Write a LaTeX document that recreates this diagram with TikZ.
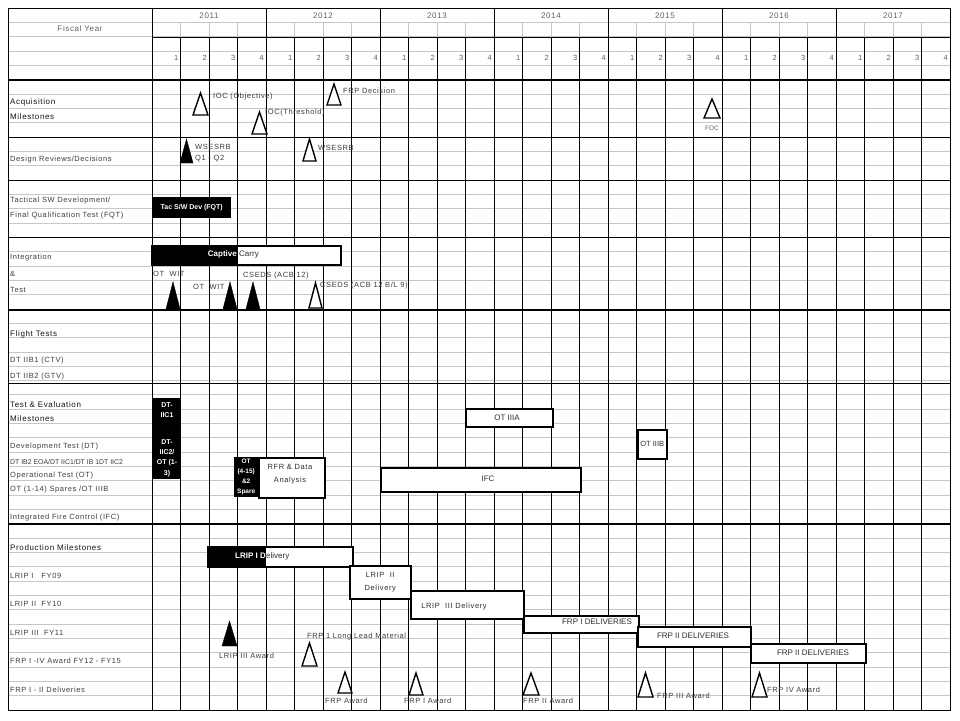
\documentclass[tikz,border=0pt]{standalone}
\usepackage{fontspec}
\setmainfont{Liberation Sans}
\newfontfamily\cellfont{Liberation Sans}[LetterSpace=8]
\newcommand\mstone[5]{\draw[#1] (#2,#5) -- ({(#2+#3)/2},#4) -- (#3,#5) -- cycle;}
\begin{document}
\begin{tikzpicture}[
   x=1pt, y=-1pt,
   gridline/.style={black!22, line width=0.7pt},
   rule/.style={black, line width=0.9pt},
   heavy/.style={black, line width=2pt},
   txt/.style={font=\cellfont\fontsize{7.5}{8.5}\selectfont, text=black!76, inner sep=0pt, anchor=west},
   hdr/.style={txt, anchor=center, font=\cellfont\fontsize{8}{9}\selectfont, text=black!62},
   key/.style={txt, font=\cellfont\fontsize{8}{9}\selectfont, text=black!92},
   bar/.style={draw, line width=1.5pt, fill=white, anchor=north west, inner sep=0pt},
   blackbar/.style={fill=black, anchor=north west, inner sep=0pt},
   bartxt/.style={font=\fontsize{8}{9}\selectfont, text=black!82, inner sep=0pt},
   whitetxt/.style={font=\bfseries\fontsize{7}{10}\selectfont, text=white, inner sep=0pt, align=center},
   open/.style={draw, line width=1.4pt, fill=white},
   solid/.style={fill=black}
]
\useasboundingbox[fill=white] (0,0) rectangle (960,720);

% Grid
\foreach \k in {1,...,48}
   \draw[gridline] (8,{8+14.327*\k}) -- (950,{8+14.327*\k});
\foreach \q in {1,...,27}
   \draw[gridline] ({152+28.5*\q},22.3) -- ({152+28.5*\q},37);
\draw[rule] (8,8) rectangle (950,710);
\draw[rule] (152,8) -- (152,710);
\foreach \yr in {1,...,6}
   \draw[rule] ({152+114*\yr},8) -- ({152+114*\yr},37);
\foreach \q in {1,...,27}
   \draw[rule] ({152+28.5*\q},37) -- ({152+28.5*\q},710);
\draw[rule] (152,37) -- (950,37);
\foreach \yy in {137,180,237,383}
   \draw[rule] (8,\yy) -- (950,\yy);
\foreach \yy in {80,310,524}
   \draw[heavy] (8,\yy) -- (950,\yy);

% Header
\node[hdr] (fy) at (80,29) {Fiscal Year};
\foreach \yr [count=\i from 0] in {2011,...,2017}
   \node[hdr] (y\yr) at ({209+114*\i},16) {\yr};
\foreach \i in {0,...,27}{
   \pgfmathtruncatemacro\qn{mod(\i,4)+1}
   \node[txt, anchor=east, text=black!62] (q\i) at ({152+28.5*(\i+1)-2},58) {\qn};
}

% Row labels
\node[key] (acq) at (10,102) {Acquisition};
\node[key] (acqm) at (10,117) {Milestones};
\node[txt] (des) at (10,160) {Design Reviews/Decisions};
\node[txt] (tac) at (10,201) {Tactical SW Development/};
\node[txt] (fqt) at (10,216) {Final Qualification Test (FQT)};
\node[txt] (int) at (10,258) {Integration};
\node[txt] (amp) at (10,274) {\&};
\node[txt] (tst) at (10,290) {Test};
\node[key] (flt) at (10,334) {Flight Tests};
\node[txt] (ctv) at (10,361) {DT IIB1 (CTV)};
\node[txt] (gtv) at (10,377) {DT IIB2 (GTV)};
\node[key] (tne) at (10,405) {Test \& Evaluation};
\node[key] (tnem) at (10,419) {Milestones};
\node[txt] (dev) at (10,447) {Development Test (DT)};
\node[txt, font=\fontsize{6.9}{7.5}\selectfont] (eoa) at (10,462) {DT IB2 EOA/DT IIC1/DT IB 1DT IIC2};
\node[txt] (opt) at (10,476) {Operational Test (OT)};
\node[txt] (spr) at (10,490) {OT (1-14) Spares /OT IIIB};
\node[txt] (ifcl) at (10,518) {Integrated Fire Control (IFC)};
\node[key] (prod) at (10,548) {Production Milestones};
\node[txt] (l1) at (10,576) {LRIP I \ \ FY09};
\node[txt] (l2) at (10,604) {LRIP II \ FY10};
\node[txt] (l3) at (10,633) {LRIP III \ FY11};
\node[txt] (frpa) at (10,661) {FRP I -IV Award FY12 - FY15};
\node[txt] (frpd) at (10,690) {FRP I - II Deliveries};

% Acquisition milestones
\mstone{open}{193}{208}{93}{115}
\node[txt] (iocobj) at (213,97) {IOC (Objective)};
\mstone{open}{252}{267}{112}{134}
\node[txt] (ioctr) at (265,113) {IOC(Threshold)};
\mstone{open}{327}{341}{84}{105}
\node[txt] (frpdec) at (343,91) {FRP Decision};
\mstone{open}{704}{720}{99}{118}
\node[hdr, font=\fontsize{6.5}{7}\selectfont] (foc) at (712,128) {FOC};

% Design reviews
\mstone{solid}{180}{193}{139}{163}
\node[txt] (srb1) at (195,147) {WSESRB};
\node[txt] (srbq) at (195,159) {Q1 - Q2};
\mstone{open}{303}{316}{139}{161}
\node[txt] (srb2) at (318,148) {WSESRB};

% Tactical SW
\node[blackbar, minimum width=79, minimum height=21] (tacbar) at (152,197) {};
\node[whitetxt] (tactxt) at (tacbar.center) {Tac S/W Dev (FQT)};

% Integration & test
\node[bar, minimum width=189, minimum height=19] (cc) at (151,245) {};
\fill (151,245) rectangle (238,264);
\node[whitetxt, font=\bfseries\fontsize{8}{9}\selectfont, anchor=east] (cap) at (237,254.5) {Captive};
\node[bartxt, anchor=west] (carry) at (239,254.5) {Carry};
\mstone{solid}{166}{180}{282}{309}
\node[txt] (wit1) at (153,274) {OT \ WIT};
\mstone{solid}{223}{237}{282}{309}
\node[txt] (wit2) at (193,287) {OT \ WIT};
\mstone{solid}{246}{260}{282}{309}
\node[txt] (cseds1) at (243,276) {CSEDS (ACB 12)};
\mstone{open}{309}{322}{283}{308}
\node[txt] (cseds2) at (320,286) {CSEDS (ACB 12 B/L 9)};

% Test & evaluation
\node[blackbar, minimum width=28, minimum height=81] (dtbar) at (153,398) {};
\node[whitetxt] (dt1) at (167,410) {DT-\\IIC1};
\node[whitetxt, font=\bfseries\fontsize{7}{10.3}\selectfont] (dt2) at (167,458) {DT-\\IIC2/\\OT (1-\\3)};
\node[blackbar, minimum width=24, minimum height=40] (otbar) at (234,457) {};
\node[whitetxt, font=\bfseries\fontsize{6.5}{10}\selectfont] (ot415) at (otbar.center) {OT\\(4-15)\\\&2\\Spare};
\node[bar, minimum width=66, minimum height=40] (rfr) at (258,457) {};
\node[bartxt, align=center, font=\cellfont\fontsize{7.5}{13}\selectfont] (rfrtxt) at (290,474) {RFR \& Data\\Analysis};
\node[bar, minimum width=87, minimum height=18] (otIIIA) at (465,408) {};
\node[bartxt] (otIIIAtxt) at (507,418) {OT IIIA};
\node[bar, minimum width=29, minimum height=29] (otIIIB) at (637,429) {};
\node[bartxt, font=\fontsize{7.5}{8}\selectfont] (otIIIBtxt) at (otIIIB.center) {OT IIIB};
\node[bar, minimum width=200, minimum height=24] (ifc) at (380,467) {};
\node[bartxt] (ifctxt) at (488,479) {IFC};

% Production
\node[bar, minimum width=145, minimum height=20] (lrip1) at (207,546) {};
\fill (207,546) rectangle (266,566);
\node[whitetxt, font=\bfseries\fontsize{8}{9}\selectfont, anchor=east] (lrip1a) at (266,556) {LRIP I D};
\node[bartxt, anchor=west] (lrip1b) at (266,556) {elivery};
\node[bar, minimum width=61, minimum height=33] (lrip2) at (349,565) {};
\node[bartxt, align=center, font=\cellfont\fontsize{7.5}{12.5}\selectfont] (lrip2txt) at (lrip2.center) {LRIP \ II\\Delivery};
\node[bar, minimum width=113, minimum height=28] (lrip3) at (410,590) {};
\node[bartxt, font=\cellfont\fontsize{7.5}{8.5}\selectfont] (lrip3txt) at (454,607) {LRIP \ III Delivery};
\node[bar, minimum width=115, minimum height=17] (frp1) at (523,615) {};
\node[bartxt] (frp1txt) at (597,622) {FRP I DELIVERIES};
\node[bar, minimum width=113, minimum height=20] (frp2) at (637,626) {};
\node[bartxt] (frp2txt) at (693,636) {FRP II DELIVERIES};
\node[bar, minimum width=115, minimum height=19] (frp3) at (750,643) {};
\node[bartxt] (frp3txt) at (813,653) {FRP II DELIVERIES};

\mstone{solid}{222}{237}{621}{646}
\node[txt] (lrip3aw) at (219,656) {LRIP III Award};
\mstone{open}{302}{317}{643}{666}
\node[txt] (frpll) at (307,637) {FRP 1 Long Lead Material};
\mstone{open}{338}{352}{672}{693}
\node[txt] (frpaw) at (325,701) {FRP Award};
\mstone{open}{409}{423}{673}{695}
\node[txt] (frp1aw) at (404,701) {FRP I Award};
\mstone{open}{523}{539}{673}{695}
\node[txt] (frp2aw) at (523,701) {FRP II Award};
\mstone{open}{638}{653}{673}{697}
\node[txt] (frp3aw) at (657,696) {FRP III Award};
\mstone{open}{752}{767}{673}{697}
\node[txt] (frp4aw) at (767,690) {FRP IV Award};

\end{tikzpicture}
\end{document}
